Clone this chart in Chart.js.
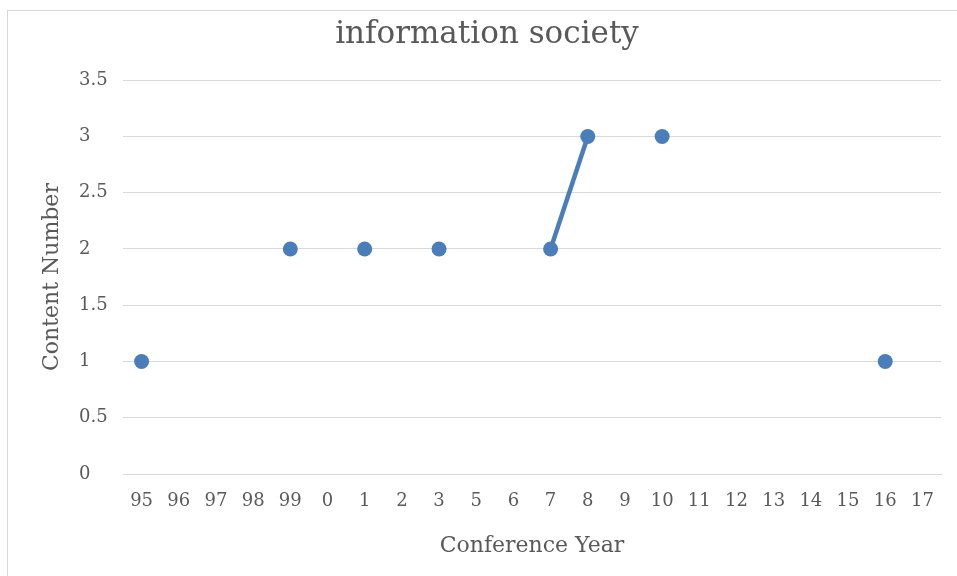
<!DOCTYPE html>
<html>
<head>
<meta charset="utf-8">
<script src="https://cdn.jsdelivr.net/npm/chart.js@4/dist/chart.umd.min.js"></script>
<style>
    html, body { margin: 0; padding: 0; background: #fff; overflow: hidden; }
    #wrap { position: relative; width: 957px; height: 576px; }
    #frame { position: absolute; left: 7px; top: 10px; width: 1000px; height: 600px; border: 1px solid #d9d9d9; box-sizing: border-box; }
    #wrap canvas { position: absolute; left: 0; top: 0; }
</style>
</head>
<body>
<div id="wrap">
    <div id="frame"></div>
    <canvas id="infoChart"></canvas>
</div>
<script>
// Годы конференций (4-го года нет)
const years = ["95", "96", "97", "98", "99", "0", "1", "2", "3", "5", "6", "7",
               "8", "9", "10", "11", "12", "13", "14", "15", "16", "17"];
// Число материалов по годам (null = нет значения)
const contentCounts = [1, null, null, null, 2, null, 2, null, 2, null, null, 2,
                       3, null, 3, null, null, null, null, null, 1, null];
const yTicks = [0, 0.5, 1, 1.5, 2, 2.5, 3, 3.5];

const chartTitle = "information society";
const xTitle = "Conference Year";
const yTitle = "Content Number";

const textColor = "#595959";
const gridColor = "#d9d9d9";
const lineColor = "#4a7ebb";
const fontFamily = "'DejaVu Serif', serif";

const ctx = document.getElementById("infoChart").getContext("2d");

new Chart(ctx, {
    type: "line",
    data: {
        labels: years,
        datasets: [{
            label: chartTitle,
            data: contentCounts,
            borderColor: lineColor,
            backgroundColor: lineColor,
            borderWidth: 4.5,
            pointRadius: 7.5,
            pointBorderWidth: 0,
            spanGaps: false,
            tension: 0
        }]
    },
    options: {
        responsive: true,
        maintainAspectRatio: false,
        animation: false,
        layout: { padding: { left: 17, right: 0, top: 0, bottom: 0 } },
        plugins: {
            legend: { display: false },
            tooltip: { enabled: false },
            title: {
                display: true,
                text: chartTitle,
                color: textColor,
                font: { family: fontFamily, size: 31, weight: "normal", lineHeight: 1.2 },
                padding: { top: 16, bottom: 27 }
            }
        },
        scales: {
            x: {
                offset: true,
                grid: { display: false, drawTicks: false },
                border: { display: true, color: gridColor, width: 1 },
                ticks: {
                    color: textColor,
                    padding: 17,
                    maxRotation: 0,
                    autoSkip: false,
                    font: { family: fontFamily, size: 18, lineHeight: 1.2 }
                },
                title: {
                    display: true,
                    text: xTitle,
                    color: textColor,
                    font: { family: fontFamily, size: 22, lineHeight: 1.2 },
                    padding: { top: 0, bottom: 17 }
                },
                afterFit: scale => { scale.height = 102; }
            },
            y: {
                position: "left",
                weight: 0,
                min: 0,
                max: 3.5,
                afterBuildTicks: scale => { scale.ticks = yTicks.map(v => ({ value: v })); },
                grid: { color: gridColor, lineWidth: 1, drawTicks: false },
                border: { display: false },
                ticks: {
                    color: textColor,
                    crossAlign: "far",
                    padding: 10,
                    callback: v => String(v),
                    font: { family: fontFamily, size: 18, lineHeight: 1.2 }
                },
                afterFit: scale => { scale.width = 44; }
            },
            yTitleAxis: {
                type: "linear",
                position: "left",
                weight: 1,
                grid: { display: false, drawTicks: false },
                border: { display: false },
                ticks: { display: false },
                title: {
                    display: true,
                    text: yTitle,
                    color: textColor,
                    font: { family: fontFamily, size: 22, lineHeight: 1.2 },
                    padding: { top: 22, bottom: 0 }
                },
                afterFit: scale => { scale.width = 62; }
            },
            rightSpacer: {
                type: "linear",
                position: "right",
                grid: { display: false, drawTicks: false },
                border: { display: false },
                ticks: { display: false },
                afterFit: scale => { scale.width = 16; }
            }
        }
    }
});
</script>
</body>
</html>
